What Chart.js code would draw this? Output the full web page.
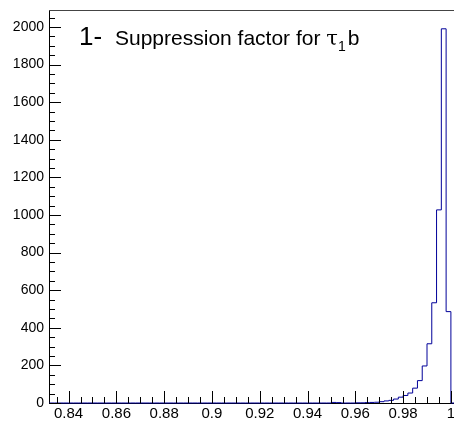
<!DOCTYPE html>
<html>
<head>
<meta charset="utf-8">
<script src="https://cdn.jsdelivr.net/npm/chart.js@4.4.1/dist/chart.umd.min.js"></script>
<style>
  html, body { margin: 0; padding: 0; background: #fff; }
  #wrap { width: 454px; height: 421px; position: relative; }
</style>
</head>
<body>
<div id="wrap"><canvas id="myChart"></canvas></div>
<script>
// histogram: lower bin edges start at binStart, width binWidth
const binStart = 0.830;
const binWidth = 0.002;
const counts = [
    0, 0, 0, 0, 0, 0, 0, 0, 0, 0,      // 0.830 - 0.848
    0, 0, 0, 0, 0, 0, 0, 0, 0, 0,      // 0.850 - 0.868
    0, 0, 0, 0, 0, 0, 0, 0, 0, 0,      // 0.870 - 0.888
    0, 0, 0, 0, 0, 0, 0, 0, 0, 0,      // 0.890 - 0.908
    0, 0, 0, 0, 0, 0, 0, 0, 0, 0,      // 0.910 - 0.928
    0, 0, 0, 0, 0, 0, 0, 0, 0, 0,      // 0.930 - 0.948
    0, 3, 2, 0, 0, 0, 1, 1, 2, 3,      // 0.950 - 0.968
    4, 7, 11, 14, 21, 31, 40, 53, 79, 119,   // 0.970 - 0.988
    197, 315, 533, 1027, 1990, 486, 0   // 0.990 - 1.002
];
const xTicks = [0.84, 0.86, 0.88, 0.9, 0.92, 0.94, 0.96, 0.98, 1];
const yTicks = [0, 200, 400, 600, 800, 1000, 1200, 1400, 1600, 1800, 2000];
const xMin = 0.8318, xMax = 1.0013;
const yMin = 0, yMax = 2090;

const points = counts.map((c, i) => ({ x: binStart + i * binWidth, y: c }));

const FONT = "'Liberation Sans', Arial, Helvetica, sans-serif";

// ROOT style frame: ticks drawn inside, top line, title text
const rootFrame = {
    id: 'rootFrame',
    afterDatasetsDraw(chart) {
        const ctx = chart.ctx;
        const a = chart.chartArea;
        const xs = chart.scales.x, ys = chart.scales.y;
        ctx.save();
        ctx.strokeStyle = '#000';
        ctx.lineWidth = 1;
        ctx.beginPath();
        // y ticks every 50
        for (let v = 0; v <= yMax; v += 50) {
            const py = Math.round(ys.getPixelForValue(v)) + 0.5;
            const len = v % 200 === 0 ? 12 : 6;
            ctx.moveTo(a.left, py);
            ctx.lineTo(a.left + len, py);
        }
        // x ticks every 0.005
        for (let k = Math.ceil(xMin / 0.005); k * 0.005 <= xMax + 1e-9; k++) {
            const px = Math.round(xs.getPixelForValue(k * 0.005)) + 0.5;
            const len = k % 4 === 0 ? 12 : 6;
            ctx.moveTo(px, a.bottom);
            ctx.lineTo(px, a.bottom - len);
        }
        ctx.stroke();
        // frame top
        ctx.strokeStyle = '#444';
        ctx.beginPath();
        ctx.moveTo(a.left, a.top + 0.5);
        ctx.lineTo(a.right, a.top + 0.5);
        ctx.stroke();
        // title
        ctx.fillStyle = '#000';
        ctx.textBaseline = 'alphabetic';
        ctx.font = '26px ' + FONT;
        ctx.fillText('1-', 79, 45);
        ctx.font = '21px ' + FONT;
        const txt = 'Suppression factor for ';
        ctx.fillText(txt, 115, 45);
        let x = 115 + ctx.measureText(txt).width;
        ctx.font = '21px "DejaVu Serif", serif';
        ctx.fillText('\u03C4', x, 45);
        x += ctx.measureText('\u03C4').width;
        ctx.font = '14px ' + FONT;
        ctx.fillText('1', x, 51);
        x += ctx.measureText('1').width + 2;
        ctx.font = '21px ' + FONT;
        ctx.fillText('b', x, 45);
        ctx.restore();
    }
};

const myChart = document.getElementById('myChart').getContext('2d');
const chart = new Chart(myChart, {
    type: 'line',
    data: {
        datasets: [{
            data: points,
            stepped: 'after',
            borderColor: '#000099',
            borderWidth: 1,
            pointRadius: 0,
            fill: false,
            clip: { left: 0, top: 0, right: 0, bottom: 2 }
        }]
    },
    options: {
        responsive: true,
        maintainAspectRatio: false,
        animation: false,
        layout: { padding: { top: 10, right: 0, left: 0, bottom: 0 } },
        plugins: { legend: { display: false }, tooltip: { enabled: false } },
        scales: {
            x: {
                type: 'linear',
                min: xMin,
                max: xMax,
                afterBuildTicks: (s) => { s.ticks = xTicks.map(v => ({ value: v })); },
                afterFit: (s) => { s.height = 18; s.paddingLeft = 0; s.paddingRight = 0; },
                grid: { display: false, drawTicks: false },
                border: { display: true, color: '#000', width: 1 },
                ticks: {
                    autoSkip: false,
                    maxRotation: 0,
                    padding: 2,
                    color: '#000',
                    font: { family: FONT, size: 15 },
                    callback: (v) => String(Math.round(v * 100) / 100)
                }
            },
            y: {
                min: yMin,
                max: yMax,
                afterBuildTicks: (s) => { s.ticks = yTicks.map(v => ({ value: v })); },
                afterFit: (s) => { s.width = 49; s.paddingTop = 0; s.paddingBottom = 0; },
                grid: { display: false, drawTicks: false },
                border: { display: true, color: '#000', width: 1 },
                ticks: {
                    padding: 5,
                    color: '#000',
                    font: { family: FONT, size: 14 },
                    callback: (v) => String(v)
                }
            }
        }
    },
    plugins: [rootFrame]
});
</script>
</body>
</html>
